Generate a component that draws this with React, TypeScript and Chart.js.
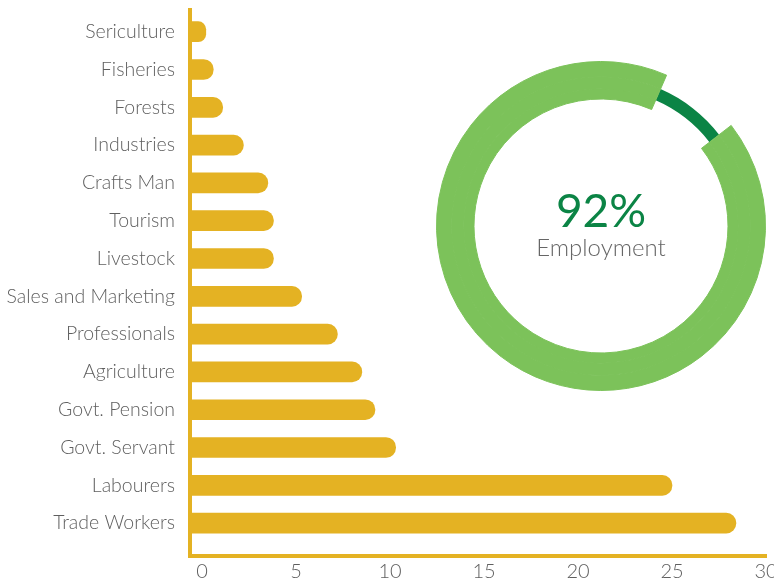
import React, { useEffect, useRef } from 'react';
import { Chart, registerables } from 'chart.js';

Chart.register(...registerables);

// ---- data ----
const categories = [
  'Sericulture',
  'Fisheries',
  'Forests',
  'Industries',
  'Crafts Man',
  'Tourism',
  'Livestock',
  'Sales and Marketing',
  'Professionals',
  'Agriculture',
  'Govt. Pension',
  'Govt. Servant',
  'Labourers',
  'Trade Workers',
];
const values = [0.2, 0.6, 1.1, 2.2, 3.5, 3.8, 3.8, 5.3, 7.2, 8.5, 9.2, 10.3, 25.0, 28.4];
const xTickValues = [0, 5, 10, 15, 20, 25, 30];
const employmentLabels = ['Not employed', 'Employed'];
const employmentShare = [8, 92];
const employmentText = '92%';
const employmentCaption = 'Employment';

// ---- styles ----
const FONT = "Lato, 'Open Sans', 'DejaVu Sans', sans-serif";
const YELLOW = '#E4B223';
const GRAY = '#5F5F5F';
const LIGHT_GREEN = '#7CC25A';
const DARK_GREEN = '#0B8445';
const CLEAR = 'rgba(0,0,0,0)';
const X_MIN = -0.64;
const X_MAX = 30;
const Y_MIN = -0.574;
const Y_MAX = 13.87;

export default function App() {
  const barRef = useRef<HTMLCanvasElement | null>(null);
  const donutRef = useRef<HTMLCanvasElement | null>(null);

  useEffect(() => {
    if (!barRef.current || !donutRef.current) return;

    const bar = new Chart(barRef.current, {
      type: 'bar',
      data: {
        datasets: [
          {
            data: values.map((v, i) => ({ x: v, y: i })),
            backgroundColor: YELLOW,
            borderWidth: 0,
            borderRadius: 10,
            borderSkipped: 'start',
            barThickness: 20,
            base: X_MIN,
          } as any,
        ],
      },
      options: {
        indexAxis: 'y',
        responsive: false,
        animation: false,
        events: [],
        layout: { padding: { top: 10, right: 24, left: 0, bottom: 0 } },
        plugins: { legend: { display: false }, tooltip: { enabled: false } },
        scales: {
          x: {
            type: 'linear',
            position: 'bottom',
            min: X_MIN,
            max: X_MAX,
            offset: false,
            grid: { display: false, drawTicks: false },
            border: { display: true, color: YELLOW, width: 4 },
            ticks: {
              color: GRAY,
              font: { family: FONT, size: 20, weight: '300' as any },
              padding: 4,
              maxRotation: 0,
              autoSkip: false,
            },
            afterBuildTicks: (s: any) => {
              s.ticks = xTickValues.map((v) => ({ value: v }));
            },
            afterFit: (s: any) => {
              s.height = 29;
              s.paddingLeft = 0;
              s.paddingRight = 0;
            },
          },
          y: {
            type: 'linear',
            position: 'left',
            reverse: true,
            min: Y_MIN,
            max: Y_MAX,
            offset: false,
            grid: { display: false, drawTicks: false, offset: false },
            border: { display: true, color: YELLOW, width: 4 },
            ticks: {
              color: GRAY,
              font: { family: FONT, size: 19.5, weight: '300' as any },
              padding: 15,
              autoSkip: false,
              callback: (v: any) => categories[v as number] ?? '',
            },
            afterBuildTicks: (s: any) => {
              s.ticks = categories.map((_, i) => ({ value: i }));
            },
            afterFit: (s: any) => {
              s.width = 190;
              s.paddingTop = 0;
              s.paddingBottom = 0;
            },
          },
        },
      },
    });

    const donut = new Chart(donutRef.current, {
      type: 'doughnut',
      data: {
        labels: employmentLabels,
        datasets: [
          {
            data: employmentShare,
            backgroundColor: [CLEAR, LIGHT_GREEN],
            borderColor: [CLEAR, LIGHT_GREEN],
            borderWidth: [0, 1],
            weight: 15,
          } as any,
          {
            data: employmentShare,
            backgroundColor: [DARK_GREEN, LIGHT_GREEN],
            borderColor: [DARK_GREEN, LIGHT_GREEN],
            borderWidth: [0, 1],
            weight: 12,
          } as any,
          {
            data: employmentShare,
            backgroundColor: [CLEAR, LIGHT_GREEN],
            borderColor: [CLEAR, LIGHT_GREEN],
            borderWidth: [0, 1],
            weight: 10,
          } as any,
        ],
      },
      options: {
        responsive: false,
        animation: false,
        events: [],
        cutout: 127,
        rotation: 23.5,
        layout: { padding: 0 },
        plugins: { legend: { display: false }, tooltip: { enabled: false } },
      },
    });

    return () => {
      bar.destroy();
      donut.destroy();
    };
  }, []);

  return (
    <div
      style={{
        position: 'fixed',
        left: 0,
        top: 0,
        width: 774,
        height: 585,
        overflow: 'hidden',
        background: '#ffffff',
      }}
    >
      <canvas
        ref={barRef}
        width={790}
        height={585}
        style={{ position: 'absolute', left: 0, top: 0, width: 790, height: 585 }}
      />
      <canvas
        ref={donutRef}
        width={330}
        height={330}
        style={{ position: 'absolute', left: 436, top: 61, width: 330, height: 330 }}
      />
      <div
        style={{
          position: 'absolute',
          left: 451,
          width: 300,
          top: 187,
          textAlign: 'center',
          fontFamily: FONT,
          fontSize: 46,
          lineHeight: '46px',
          fontWeight: 400,
          color: DARK_GREEN,
        }}
      >
        {employmentText}
      </div>
      <div
        style={{
          position: 'absolute',
          left: 451,
          width: 300,
          top: 235,
          textAlign: 'center',
          fontFamily: FONT,
          fontSize: 24,
          lineHeight: '24px',
          fontWeight: 300,
          color: '#666666',
        }}
      >
        {employmentCaption}
      </div>
    </div>
  );
}
